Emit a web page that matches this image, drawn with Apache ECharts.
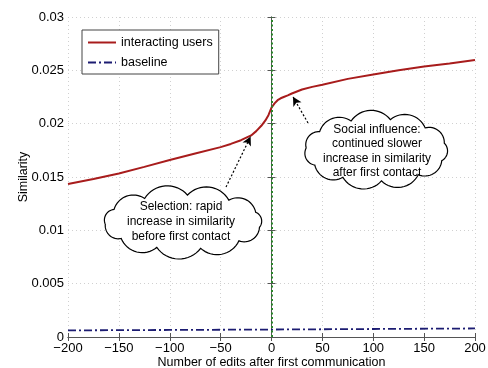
<!DOCTYPE html>
<html>
<head>
<meta charset="utf-8">
<script src="https://cdn.jsdelivr.net/npm/echarts@6/dist/echarts.min.js"></script>
<style>html,body{margin:0;padding:0;background:#fff}#c{width:488px;height:368px}</style>
</head>
<body>
<div id="c"></div>
<script>
// ---- data ----
const editsX = [-200,-175,-150,-125,-100,-75,-50,-40,-30,-20,-15,-10,-6,-3,0,3,6,9,12,16,20,30,40,50,75,100,125,150,175,200];
const interacting = [0.01434,0.01482,0.01533,0.01595,0.0166,0.0172,0.0178,0.0181,0.01845,0.0189,0.0193,0.0198,0.0203,0.0208,0.0215,0.0219,0.0222,0.02238,0.0225,0.02265,0.02283,0.0232,0.02345,0.02365,0.0242,0.0246,0.025,0.02535,0.02565,0.02597];
const baselineX = [-200,-100,0,100,200];
const baseline = [0.00062,0.00066,0.0007,0.00075,0.0008];
const seriesNames = ['interacting users','baseline'];
const xTicks = [-200,-150,-100,-50,0,50,100,150,200];
const yTicks = [0,0.005,0.01,0.015,0.02,0.025,0.03];
const noteSelection = 'Selection: rapid\nincrease in similarity\nbefore first contact';
const noteSocial = 'Social influence:\ncontinued slower\nincrease in similarity\nafter first contact';

const FONT = '"Liberation Sans", Arial, Helvetica, sans-serif';

function makeCloud(cx, cy, rx, ry, n, phase, rf) {
  const pts = [];
  for (let i = 0; i < n; i++) {
    const t = phase + i * 2 * Math.PI / n;
    pts.push([cx + rx * Math.cos(t), cy + ry * Math.sin(t)]);
  }
  const out = [];
  for (let i = 0; i < n; i++) {
    const p0 = pts[i], p1 = pts[(i + 1) % n];
    const mx = (p0[0] + p1[0]) / 2, my = (p0[1] + p1[1]) / 2;
    const dx = p1[0] - p0[0], dy = p1[1] - p0[1];
    const c = Math.hypot(dx, dy);
    let nx = -dy / c, ny = dx / c;
    if (nx * (mx - cx) + ny * (my - cy) < 0) { nx = -nx; ny = -ny; }
    const r = c * rf;
    const h = Math.sqrt(r * r - c * c / 4);
    const ccx = mx - nx * h, ccy = my - ny * h;
    const a0 = Math.atan2(p0[1] - ccy, p0[0] - ccx);
    const a1 = Math.atan2(p1[1] - ccy, p1[0] - ccx);
    let d = a1 - a0;
    while (d > Math.PI) d -= 2 * Math.PI;
    while (d <= -Math.PI) d += 2 * Math.PI;
    const steps = 16;
    for (let k = 0; k < steps; k++) {
      const a = a0 + d * k / steps;
      out.push([ccx + r * Math.cos(a), ccy + r * Math.sin(a)]);
    }
  }
  return out;
}

const chart = echarts.init(document.getElementById('c'), null, {renderer: 'canvas'});

const axisLineStyle = {color: '#555', width: 1};
const fmtY = v => (Math.abs(v) < 1e-12 ? '0' : String(+v.toFixed(3)));
const fmtX = v => (v < 0 ? '\u2212' + Math.abs(v) : String(v));

const option = {
  animation: false,
  backgroundColor: '#fff',
  textStyle: {fontFamily: FONT},
  grid: {left: 68, right: 13, top: 17, bottom: 31, containLabel: false, outerBoundsMode: 'none'},
  legend: {
    orient: 'vertical', left: 82, top: 30,
    data: seriesNames,
    itemWidth: 28, itemHeight: 10, itemGap: 7,
    padding: [6, 6, 5, 5],
    borderColor: '#444', borderWidth: 1, backgroundColor: '#fff',
    itemStyle: {opacity: 0},
    textStyle: {fontSize: 12.5, color: '#000', fontFamily: FONT}
  },
  xAxis: [{
    type: 'value', min: xTicks[0], max: xTicks[xTicks.length - 1], interval: 50,
    position: 'bottom',
    name: 'Number of edits after first communication',
    nameLocation: 'middle', nameGap: 19, nameMoveOverlap: false,
    nameTextStyle: {fontSize: 12.5, color: '#000', fontFamily: FONT},
    axisLine: {show: true, lineStyle: axisLineStyle},
    axisTick: {show: true, inside: true, length: 4, lineStyle: axisLineStyle},
    axisLabel: {color: '#000', fontSize: 13, margin: 5, formatter: fmtX, fontFamily: FONT},
    splitLine: {show: true, lineStyle: {color: '#d0d0d0', type: [1, 3]}}
  }, {
    type: 'value', min: xTicks[0], max: xTicks[xTicks.length - 1], interval: 50,
    position: 'top',
    axisLine: {show: true, lineStyle: axisLineStyle},
    axisTick: {show: true, inside: true, length: 4, lineStyle: axisLineStyle},
    axisLabel: {show: false}, splitLine: {show: false}
  }],
  yAxis: [{
    type: 'value', min: yTicks[0], max: yTicks[yTicks.length - 1], interval: 0.005,
    position: 'left',
    name: 'Similarity', nameLocation: 'middle', nameGap: 38, nameMoveOverlap: false,
    nameTextStyle: {fontSize: 12.5, color: '#000', fontFamily: FONT},
    axisLine: {show: true, lineStyle: axisLineStyle},
    axisTick: {show: true, inside: true, length: 4, lineStyle: axisLineStyle},
    axisLabel: {color: '#000', fontSize: 13, margin: 4, formatter: fmtY, fontFamily: FONT},
    splitLine: {show: true, lineStyle: {color: '#d0d0d0', type: [1, 3]}}
  }, {
    type: 'value', min: yTicks[0], max: yTicks[yTicks.length - 1], interval: 0.005,
    position: 'right',
    axisLine: {show: true, lineStyle: axisLineStyle},
    axisTick: {show: true, inside: true, length: 4, lineStyle: axisLineStyle},
    axisLabel: {show: false}, splitLine: {show: false}
  }],
  series: [{
    name: seriesNames[0], type: 'line',
    data: editsX.map((x, i) => [x, interacting[i]]),
    symbol: 'none', smooth: false,
    lineStyle: {color: '#a81c1c', width: 2},
    itemStyle: {color: '#a81c1c'},
    z: 3,
    markLine: {
      silent: true, symbol: ['none', 'arrow'], symbolSize: [7, 9],
      label: {show: false},
      lineStyle: {color: '#000', type: [2, 2], width: 1.2},
      data: [
        [{coord: [-44.7, 0.01406]}, {coord: [-20.5, 0.0188]}],
        [{coord: [35.9, 0.02006]}, {coord: [21.1, 0.02252]}]
      ]
    }
  }, {
    name: seriesNames[1], type: 'line',
    data: baselineX.map((x, i) => [x, baseline[i]]),
    symbol: 'none',
    lineStyle: {color: '#1c1c72', width: 1.8, type: [8, 3, 2, 3]},
    itemStyle: {color: '#1c1c72'},
    z: 3,
    markLine: {
      silent: true, symbol: ['none', 'none'],
      label: {show: false},
      lineStyle: {color: '#2a862a', type: [2, 2.5], width: 2},
      data: [{xAxis: 0}]
    }
  }],
  graphic: [
    {type: 'polygon', shape: {points: makeCloud(183, 222, 78, 27, 11, 0.2, 0.62)},
     style: {fill: '#fff', stroke: '#000', lineWidth: 1.2}, z: 10},
    {type: 'text', x: 181, y: 222, z: 11,
     style: {text: noteSelection, align: 'center', verticalAlign: 'middle',
       font: '12px ' + FONT, lineHeight: 15, fill: '#000'}},
    {type: 'polygon', shape: {points: makeCloud(376, 150, 70, 31, 11, 0.35, 0.62)},
     style: {fill: '#fff', stroke: '#000', lineWidth: 1.2}, z: 10},
    {type: 'text', x: 377, y: 151, z: 11,
     style: {text: noteSocial, align: 'center', verticalAlign: 'middle',
       font: '12px ' + FONT, lineHeight: 14.5, fill: '#000'}}
  ]
};
chart.setOption(option);
</script>
</body>
</html>
